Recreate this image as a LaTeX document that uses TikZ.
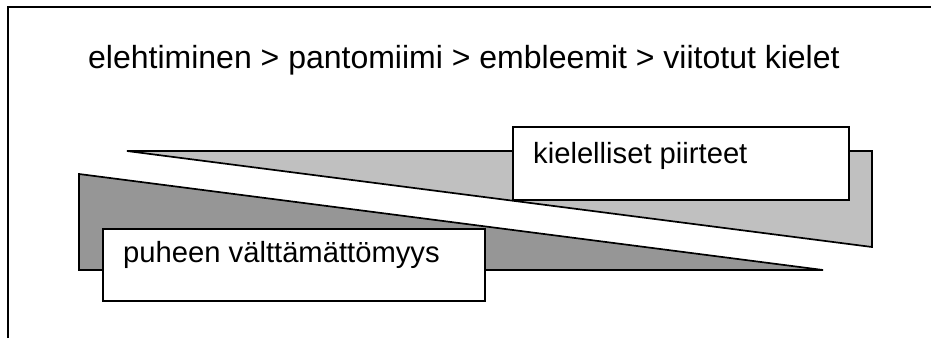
\documentclass[tikz,border=0pt]{standalone}
\usepackage{fontspec}
\setmainfont{Liberation Sans}
\definecolor{lightg}{HTML}{C0C0C0}
\definecolor{darkg}{HTML}{969696}
\begin{document}
\begin{tikzpicture}[x=1pt,y=-1pt,
  wedge/.style={draw=black,line width=1.7pt,line join=miter},
  box/.style={draw=black,fill=white,line width=1.7pt,anchor=north west,inner sep=0pt},
  lbl/.style={anchor=base west,inner sep=0pt,font=\fontsize{29.2}{34}\selectfont},
  ttl/.style={anchor=base west,inner sep=0pt,font=\fontsize{32}{38}\selectfont}]
\useasboundingbox (0,0) rectangle (931,338);
% frame
\draw[line width=2pt] (7.5,338) -- (7.5,6.5) -- (931,6.5);
% title
\node[ttl] (title) at (88,68) {elehtiminen > pantomiimi > embleemit > viitotut kielet};
% wedges
\coordinate (l1) at (127,151);
\coordinate (l2) at (872,151);
\coordinate (l3) at (872,247);
\filldraw[wedge,fill=lightg] (l1) -- (l2) -- (l3) -- cycle;
\coordinate (d1) at (79,174);
\coordinate (d2) at (79,270);
\coordinate (d3) at (823,270);
\filldraw[wedge,fill=darkg] (d1) -- (d2) -- (d3) -- cycle;
% boxes
\node[box,minimum width=336pt,minimum height=73pt] (kbox) at (512,126) {};
\node[lbl] (klabel) at (533,163) {kielelliset piirteet};
\node[box,minimum width=382pt,minimum height=72pt] (pbox) at (102,228) {};
\node[lbl] (plabel) at (123,262) {puheen välttämättömyys};
\end{tikzpicture}
\end{document}
